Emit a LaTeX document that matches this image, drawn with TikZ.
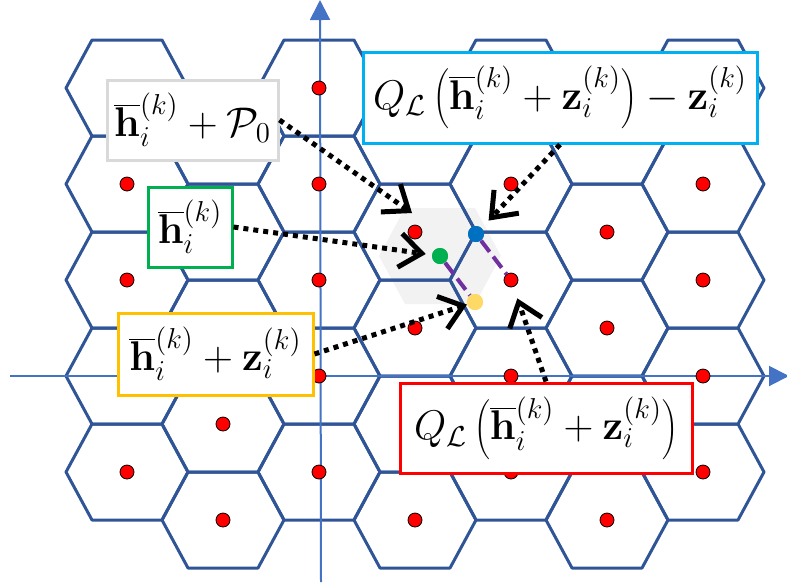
\documentclass[tikz,border=0pt]{standalone}
\usetikzlibrary{arrows.meta}
\definecolor{hexblue}{HTML}{2F5597}
\definecolor{axisblue}{HTML}{4472C4}
\definecolor{boxgreen}{HTML}{00B050}
\definecolor{boxcyan}{HTML}{00B0F0}
\definecolor{boxgold}{HTML}{FFC000}
\definecolor{ptblue}{HTML}{0070C0}
\definecolor{ptyellow}{HTML}{FFD966}
\definecolor{zpurple}{HTML}{7030A0}
\begin{document}
\begin{tikzpicture}[x=0.5pt, y=-0.5pt,
    hexline/.style={hexblue, line width=1.5pt, line join=round},
    lat/.style={circle, draw=black, line width=0.4pt, fill=red, inner sep=0pt, minimum size=7pt},
    pt/.style={circle, inner sep=0pt, minimum size=8pt},
    lbl/.style={rectangle, line width=1.5pt, fill=white, inner sep=2pt, font=\fontsize{21}{25}\selectfont},
    zline/.style={zpurple, line width=2pt, dash pattern=on 7pt off 3pt},
    ptr/.style={line width=2.5pt, dash pattern=on 2.5pt off 2.5pt, -{Straight Barb[length=11pt, width=17pt, line width=2.5pt]}},
    axis/.style={axisblue, line width=1pt, -{Triangle[length=10pt, width=10pt]}}]
    \useasboundingbox (0,0) rectangle (787,585);
    \fill[gray!10] (379,256) -- (405,208) -- (475,208) -- (501,256) -- (475,304) -- (405,304) -- cycle;
    \foreach \c in {0,...,6} \foreach \r in {0,...,4} {
        \pgfmathsetmacro\cx{127+96*\c}
        \pgfmathsetmacro\cy{88+96*\r+48*mod(\c,2)}
        \draw[hexline] (\cx-61,\cy) -- (\cx-35,\cy-48) -- (\cx+35,\cy-48) -- (\cx+61,\cy) -- (\cx+35,\cy+48) -- (\cx-35,\cy+48) -- cycle;
    }
    \coordinate (xs) at (10,376);
    \coordinate (xe) at (789,376);
    \coordinate (ys) at (321,582);
    \coordinate (ye) at (320,0);
    \draw[axis] (xs) -- (xe);
    \draw[axis] (ys) -- (ye);
    \foreach \c in {0,...,6} \foreach \r in {0,...,4} {
        \pgfmathsetmacro\cx{127+96*\c}
        \pgfmathsetmacro\cy{88+96*\r+48*mod(\c,2)}
        \node[lat] (p\c\r) at (\cx,\cy) {};
    }
    \node[pt, fill=boxgreen] (h) at (440,256) {};
    \node[pt, fill=ptblue] (q) at (476,234) {};
    \node[pt, fill=ptyellow] (hz) at (475,302) {};
    \draw[zline] (h) -- (hz);
    \draw[zline] (q) -- (p42);
    \node[pt, fill=boxgreen] at (h) {};
    \node[pt, fill=ptblue] at (q) {};
    \node[pt, fill=ptyellow] at (hz) {};
    \coordinate (c0) at (412,213);
    \node[lbl, draw=black!15, minimum width=85.5pt, minimum height=40pt] (gp) at (192.5,120) {$\overline{\mathbf{h}}_i^{(k)}+\mathcal{P}_0$};
    \node[lbl, draw=boxgreen, minimum width=42pt, minimum height=40pt] (gq) at (190,227) {$\overline{\mathbf{h}}_i^{(k)}$};
    \node[lbl, draw=boxcyan, minimum width=197pt, minimum height=45.5pt] (bq) at (560,97.5) {$Q_{\mathcal{L}}\left(\overline{\mathbf{h}}_i^{(k)}+\mathbf{z}_i^{(k)}\right)-\mathbf{z}_i^{(k)}$};
    \node[lbl, draw=boxgold, minimum width=97.5pt, minimum height=41pt] (yq) at (215.5,354) {$\overline{\mathbf{h}}_i^{(k)}+\mathbf{z}_i^{(k)}$};
    \node[lbl, draw=red, minimum width=146pt, minimum height=45pt] (rq) at (546,428) {$Q_{\mathcal{L}}\left(\overline{\mathbf{h}}_i^{(k)}+\mathbf{z}_i^{(k)}\right)$};
    \draw[ptr] (gp.east) -- (c0);
    \draw[ptr, shorten >=3pt] (gq.east) -- (h);
    \draw[ptr, shorten >=5pt] (bq.south) -- (q);
    \draw[ptr] (yq.east) -- (hz);
    \draw[ptr, shorten >=6pt] (rq.north) -- (p42);
\end{tikzpicture}
\end{document}
